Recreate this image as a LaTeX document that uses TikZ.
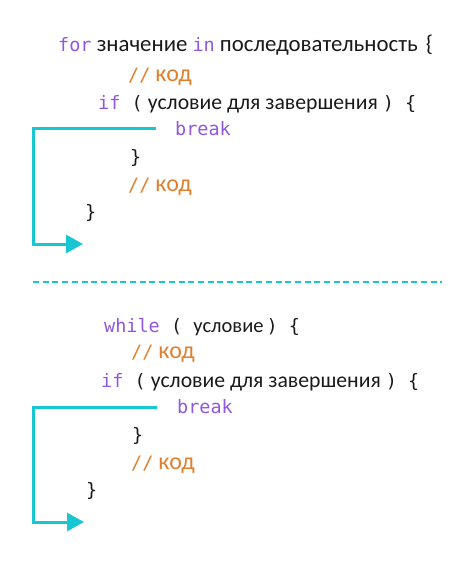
\documentclass[tikz,border=0pt]{standalone}
\usepackage{fontspec}
\setmainfont{Carlito}
\newfontfamily\codefont{DejaVu Sans Mono}
\usetikzlibrary{arrows.meta}
\definecolor{kw}{HTML}{9157E0}
\definecolor{cm}{HTML}{E07F2E}
\definecolor{ar}{HTML}{17C6D3}
\definecolor{tx}{HTML}{1A1A1A}
\tikzset{
  codeline/.style={anchor=base west, inner sep=0pt, text=tx},
  jumpline/.style={draw=ar, line width=3pt, -{Triangle[length=17pt,width=18pt]}},
  sepline/.style={draw=ar, line width=2.5pt, dash pattern=on 6pt off 3.7pt}
}
\newcommand{\mono}[1]{{\codefont\fontsize{18.5}{22}\selectfont#1}}
\newcommand{\kwd}[1]{{\color{kw}\mono{#1}}}
\newcommand{\ru}[2]{{\fontsize{#1}{#1}\selectfont#2}}
\newcommand{\cmt}{{\color{cm}\mono{//}\hspace{5pt}\ru{24}{код}}}
\begin{document}
\begin{tikzpicture}[x=1pt,y=-1pt]
\useasboundingbox (0,0) rectangle (474,566);
% first block
\node[codeline] (f1) at (58,51) {\kwd{for}\ru{22.8}{ значение }\kwd{in}\ru{22.8}{ последовательность\hspace{8pt}\{}};
\node[codeline] (f2) at (128,81) {\cmt};
\node[codeline] (f3) at (98,109) {\kwd{if}\mono{ (}\hspace{5pt}\ru{21.7}{условие для завершения}\hspace{5pt}\mono{) \{}};
\node[codeline] (f4) at (175,135) {\kwd{break}};
\node[codeline] (f5) at (130,163) {\mono{\}}};
\node[codeline] (f6) at (128,191) {\cmt};
\node[codeline] (f7) at (85,218) {\mono{\}}};
\coordinate (a1s) at (156,128);
\coordinate (a1c1) at (33,128);
\coordinate (a1c2) at (33,244);
\coordinate (a1e) at (83,244);
\draw[jumpline] (a1s) -- (a1c1) -- (a1c2) -- (a1e);
% separator
\coordinate (sepL) at (33,282);
\coordinate (sepR) at (442,282);
\draw[sepline] (sepL) -- (sepR);
% second block
\node[codeline] (w1) at (104,332) {\kwd{while}\mono{ ( }\ru{20.5}{условие}\hspace{3pt}\mono{) \{}};
\node[codeline] (w2) at (131,358) {\cmt};
\node[codeline] (w3) at (101,387) {\kwd{if}\mono{ (}\hspace{5pt}\ru{21.7}{условие для завершения}\hspace{5pt}\mono{) \{}};
\node[codeline] (w4) at (177,413) {\kwd{break}};
\node[codeline] (w5) at (132,441) {\mono{\}}};
\node[codeline] (w6) at (131,469) {\cmt};
\node[codeline] (w7) at (86,496) {\mono{\}}};
\coordinate (a2s) at (157,407);
\coordinate (a2c1) at (33,407);
\coordinate (a2c2) at (33,522);
\coordinate (a2e) at (84,522);
\draw[jumpline] (a2s) -- (a2c1) -- (a2c2) -- (a2e);
\end{tikzpicture}
\end{document}
